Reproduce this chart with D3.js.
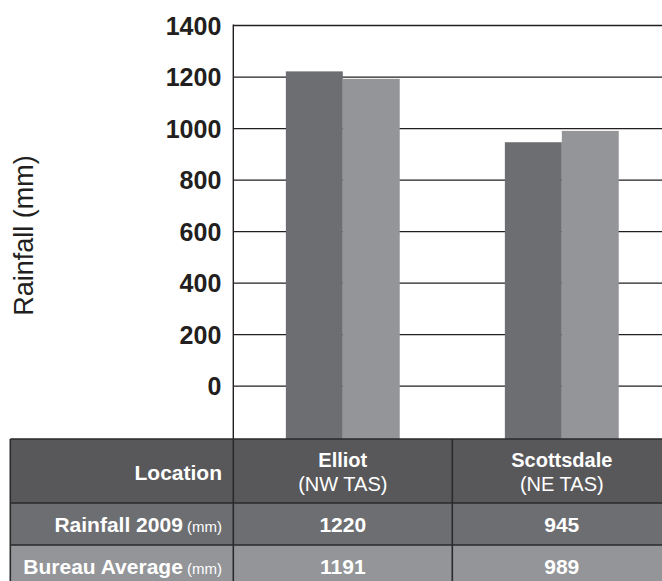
<!DOCTYPE html>
<html>
<head>
<meta charset="utf-8">
<script src="https://cdn.jsdelivr.net/npm/d3@7"></script>
<style>
  html, body { margin: 0; padding: 0; background: #fff; }
  svg { display: block; font-family: "Liberation Sans", Arial, Helvetica, sans-serif; }
</style>
</head>
<body>
<svg id="chart" width="662" height="581"></svg>
<script>
// ---- data ----
const locations = ["Elliot", "Scottsdale"];
const regions = ["(NW TAS)", "(NE TAS)"];
const seriesNames = ["Rainfall 2009", "Bureau Average"];
const rainfall2009 = [1220, 945];
const bureauAverage = [1191, 989];
const yTicks = [0, 200, 400, 600, 800, 1000, 1200, 1400];
const seriesColors = ["#6d6e71", "#939598"];

// ---- layout ----
const W = 662, H = 581;
const plotLeft = 233.3, plotTop = 25, zeroY = 385.7, plotBottom = 439;
const tableLeft = 10.3;
const bandWidth = 219;
const headerH = 64, rowH = 42;
const ink = "#231f20";
const lineCol = "#2a2a2c";

const svg = d3.select("#chart");

const x0 = d3.scaleBand().domain(locations).range([plotLeft, plotLeft + bandWidth * locations.length]).padding(0);
const x1 = d3.scaleBand().domain(seriesNames).range([x0.bandwidth() * 0.24, x0.bandwidth() * 0.76]).padding(0);
const y = d3.scaleLinear().domain([0, 1400]).range([zeroY, plotTop]);

// gridlines
const gAxis = svg.append("g").attr("transform", `translate(${plotLeft},0)`)
  .call(d3.axisLeft(y).tickValues(yTicks).tickSize(-(W - plotLeft)).tickFormat(d => d));
gAxis.select(".domain").remove();
gAxis.selectAll(".tick line").attr("stroke", ink).attr("stroke-width", 1.3);
gAxis.selectAll(".tick text")
  .attr("x", -12)
  .attr("dy", "0.36em")
  .attr("fill", ink)
  .style("font-size", "25px")
  .style("font-weight", "bold")
  .style("font-family", "'Liberation Sans', Arial, sans-serif");

// bars
const seriesData = [rainfall2009, bureauAverage];
const barData = [];
locations.forEach((loc, i) => {
  seriesNames.forEach((s, j) => barData.push({ loc, s, j, v: seriesData[j][i] }));
});
svg.append("g").selectAll("rect").data(barData).join("rect")
  .attr("x", d => x0(d.loc) + x1(d.s))
  .attr("width", x1.bandwidth())
  .attr("y", d => y(d.v))
  .attr("height", d => plotBottom - y(d.v))
  .attr("fill", d => seriesColors[d.j]);

// axis line
svg.append("line").attr("x1", plotLeft).attr("x2", plotLeft).attr("y1", plotTop - 0.6).attr("y2", plotBottom)
  .attr("stroke", ink).attr("stroke-width", 1.4);

// y-axis title
svg.append("text")
  .attr("transform", `translate(33,235.5) rotate(-90)`)
  .attr("text-anchor", "middle")
  .attr("fill", ink)
  .style("font-size", "27px")
  .text("Rainfall (mm)");

// ---- table ----
const tRight = plotLeft + bandWidth * locations.length;
const rows = [
  { top: plotBottom, h: headerH, fill: "#58585a" },
  { top: plotBottom + headerH, h: rowH, fill: seriesColors[0] },
  { top: plotBottom + headerH + rowH, h: rowH, fill: seriesColors[1] }
];
const tg = svg.append("g");
tg.selectAll("rect.row").data(rows).join("rect")
  .attr("class", "row")
  .attr("x", tableLeft).attr("y", d => d.top)
  .attr("width", tRight - tableLeft).attr("height", d => d.h)
  .attr("fill", d => d.fill);

// horizontal borders
tg.selectAll("line.h").data(rows).join("line")
  .attr("class", "h")
  .attr("x1", tableLeft).attr("x2", W)
  .attr("y1", d => d.top).attr("y2", d => d.top)
  .attr("stroke", lineCol).attr("stroke-width", 1.6);
// vertical borders
const vx = [tableLeft, plotLeft, x0(locations[1])];
tg.selectAll("line.v").data(vx).join("line")
  .attr("class", "v")
  .attr("x1", d => d).attr("x2", d => d)
  .attr("y1", plotBottom).attr("y2", H)
  .attr("stroke", lineCol).attr("stroke-width", 1.6);

const labelX = 222;
const white = "#ffffff";
// header
tg.append("text").attr("x", labelX).attr("y", 480).attr("text-anchor", "end")
  .attr("fill", white).style("font-size", "21px").style("font-weight", "bold").text("Location");
locations.forEach((loc, i) => {
  const cx = x0(loc) + x0.bandwidth() / 2;
  tg.append("text").attr("x", cx).attr("y", 466.7).attr("text-anchor", "middle")
    .attr("fill", white).style("font-size", "20px").style("font-weight", "bold").text(loc);
  tg.append("text").attr("x", cx).attr("y", 491.3).attr("text-anchor", "middle")
    .attr("fill", white).style("font-size", "20px").text(regions[i]);
});

// data rows
const baselines = [532.3, 573.6];
seriesNames.forEach((s, j) => {
  const t = tg.append("text").attr("x", labelX).attr("y", baselines[j]).attr("text-anchor", "end")
    .attr("fill", white);
  t.append("tspan").style("font-size", "21px").style("font-weight", "bold").text(s);
  t.append("tspan").style("font-size", "15px").text(" (mm)");
  locations.forEach((loc, i) => {
    tg.append("text").attr("x", x0(loc) + x0.bandwidth() / 2).attr("y", baselines[j])
      .attr("text-anchor", "middle").attr("fill", white)
      .style("font-size", "21px").style("font-weight", "bold")
      .text(seriesData[j][i]);
  });
});
</script>
</body>
</html>
